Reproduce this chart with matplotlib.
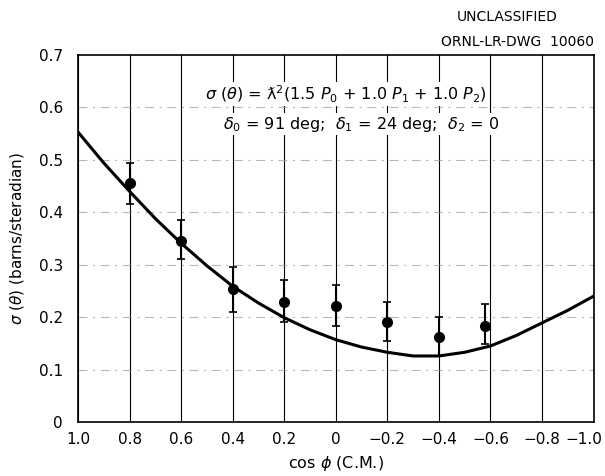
import matplotlib
matplotlib.use('Agg')
import matplotlib.pyplot as plt
import matplotlib.transforms as mtransforms
import numpy as np

# measured points, cos(phi) in C.M.
cos_phi = [0.8, 0.6, 0.4, 0.2, 0.0, -0.2, -0.4, -0.58]
sigma = [0.455, 0.345, 0.253, 0.228, 0.222, 0.190, 0.162, 0.183]
err_lo = [0.415, 0.310, 0.210, 0.190, 0.183, 0.155, 0.126, 0.149]
err_hi = [0.495, 0.385, 0.295, 0.270, 0.262, 0.228, 0.201, 0.226]

# fitted curve
curve_x = [1.0, 0.9, 0.8, 0.7, 0.6, 0.5, 0.4, 0.3, 0.2, 0.1, 0.0,
           -0.1, -0.2, -0.3, -0.4, -0.5, -0.6, -0.7, -0.8, -0.9, -1.0]
curve_y = [0.553, 0.494, 0.440, 0.388, 0.341, 0.298, 0.259, 0.227, 0.199, 0.176, 0.157,
           0.143, 0.133, 0.126, 0.126, 0.133, 0.145, 0.165, 0.189, 0.213, 0.240]

xticks = [1.0, 0.8, 0.6, 0.4, 0.2, 0.0, -0.2, -0.4, -0.6, -0.8, -1.0]
xtick_labels = ['1.0', '0.8', '0.6', '0.4', '0.2', '0', '\u22120.2', '\u22120.4', '\u22120.6', '\u22120.8', '\u22121.0']
yticks = [0, 0.1, 0.2, 0.3, 0.4, 0.5, 0.6, 0.7]
ytick_labels = ['0', '0.1', '0.2', '0.3', '0.4', '0.5', '0.6', '0.7']

plt.rcParams['font.family'] = ['DejaVu Sans']

fig = plt.figure(figsize=(6.05, 4.76), dpi=100)
ax = fig.add_axes([0.129, 0.1134, 0.852, 0.771])

ax.set_xlim(1.0, -1.0)
ax.set_ylim(0, 0.7)

# grid: solid verticals, broken dash-dot horizontals
for x in xticks:
    ax.axvline(x, color='black', lw=0.8, zorder=1)
for y in yticks[1:-1]:
    ax.axhline(y, color='#999999', lw=0.8, ls=(0, (8, 5, 2, 5)), alpha=0.7, zorder=1)

ax.plot(curve_x, curve_y, color='black', lw=2.2, zorder=3)

yerr = [np.array(sigma) - np.array(err_lo), np.array(err_hi) - np.array(sigma)]
ax.errorbar(cos_phi, sigma, yerr=yerr, fmt='o', color='black', ms=7,
            elinewidth=1.5, capsize=3, capthick=1.2, zorder=4)

ax.set_xticks(xticks)
ax.set_xticklabels(xtick_labels)
ax.set_yticks(yticks)
ax.set_yticklabels(ytick_labels)
ax.tick_params(axis='x', length=0, labelsize=11, pad=7)
ax.tick_params(axis='y', length=0, labelsize=11, pad=11)
for s in ax.spines.values():
    s.set_linewidth(1.2)

# last label sits against the right edge, as in the drawing
last = ax.get_xticklabels()[-1]
last.set_horizontalalignment('right')
last.set_transform(last.get_transform() + mtransforms.ScaledTranslation(9/100, 0, fig.dpi_scale_trans))

ax.set_xlabel('cos $\\phi$ (C.M.)', fontsize=11.5, labelpad=5)
ax.set_ylabel('$\\sigma$ ($\\theta$) (barns/steradian)', fontsize=11, labelpad=9)

ax.text(-0.04, 0.625, '$\\sigma$ ($\\theta$) = \u019b$^2$(1.5 $P_0$ + 1.0 $P_1$ + 1.0 $P_2$)',
        fontsize=11.5, ha='center', va='center', zorder=5,
        bbox=dict(fc='white', ec='none', pad=1))
ax.text(-0.10, 0.568, '$\\delta_0$ = 91 deg;  $\\delta_1$ = 24 deg;  $\\delta_2$ = 0',
        fontsize=11.5, ha='center', va='center', zorder=5,
        bbox=dict(fc='white', ec='none', pad=1))

fig.text(0.921, 0.964, 'UNCLASSIFIED', fontsize=10, ha='right', va='center')
fig.text(0.981, 0.912, 'ORNL-LR-DWG  10060', fontsize=10, ha='right', va='center')

fig.savefig('out.png', dpi=100)
